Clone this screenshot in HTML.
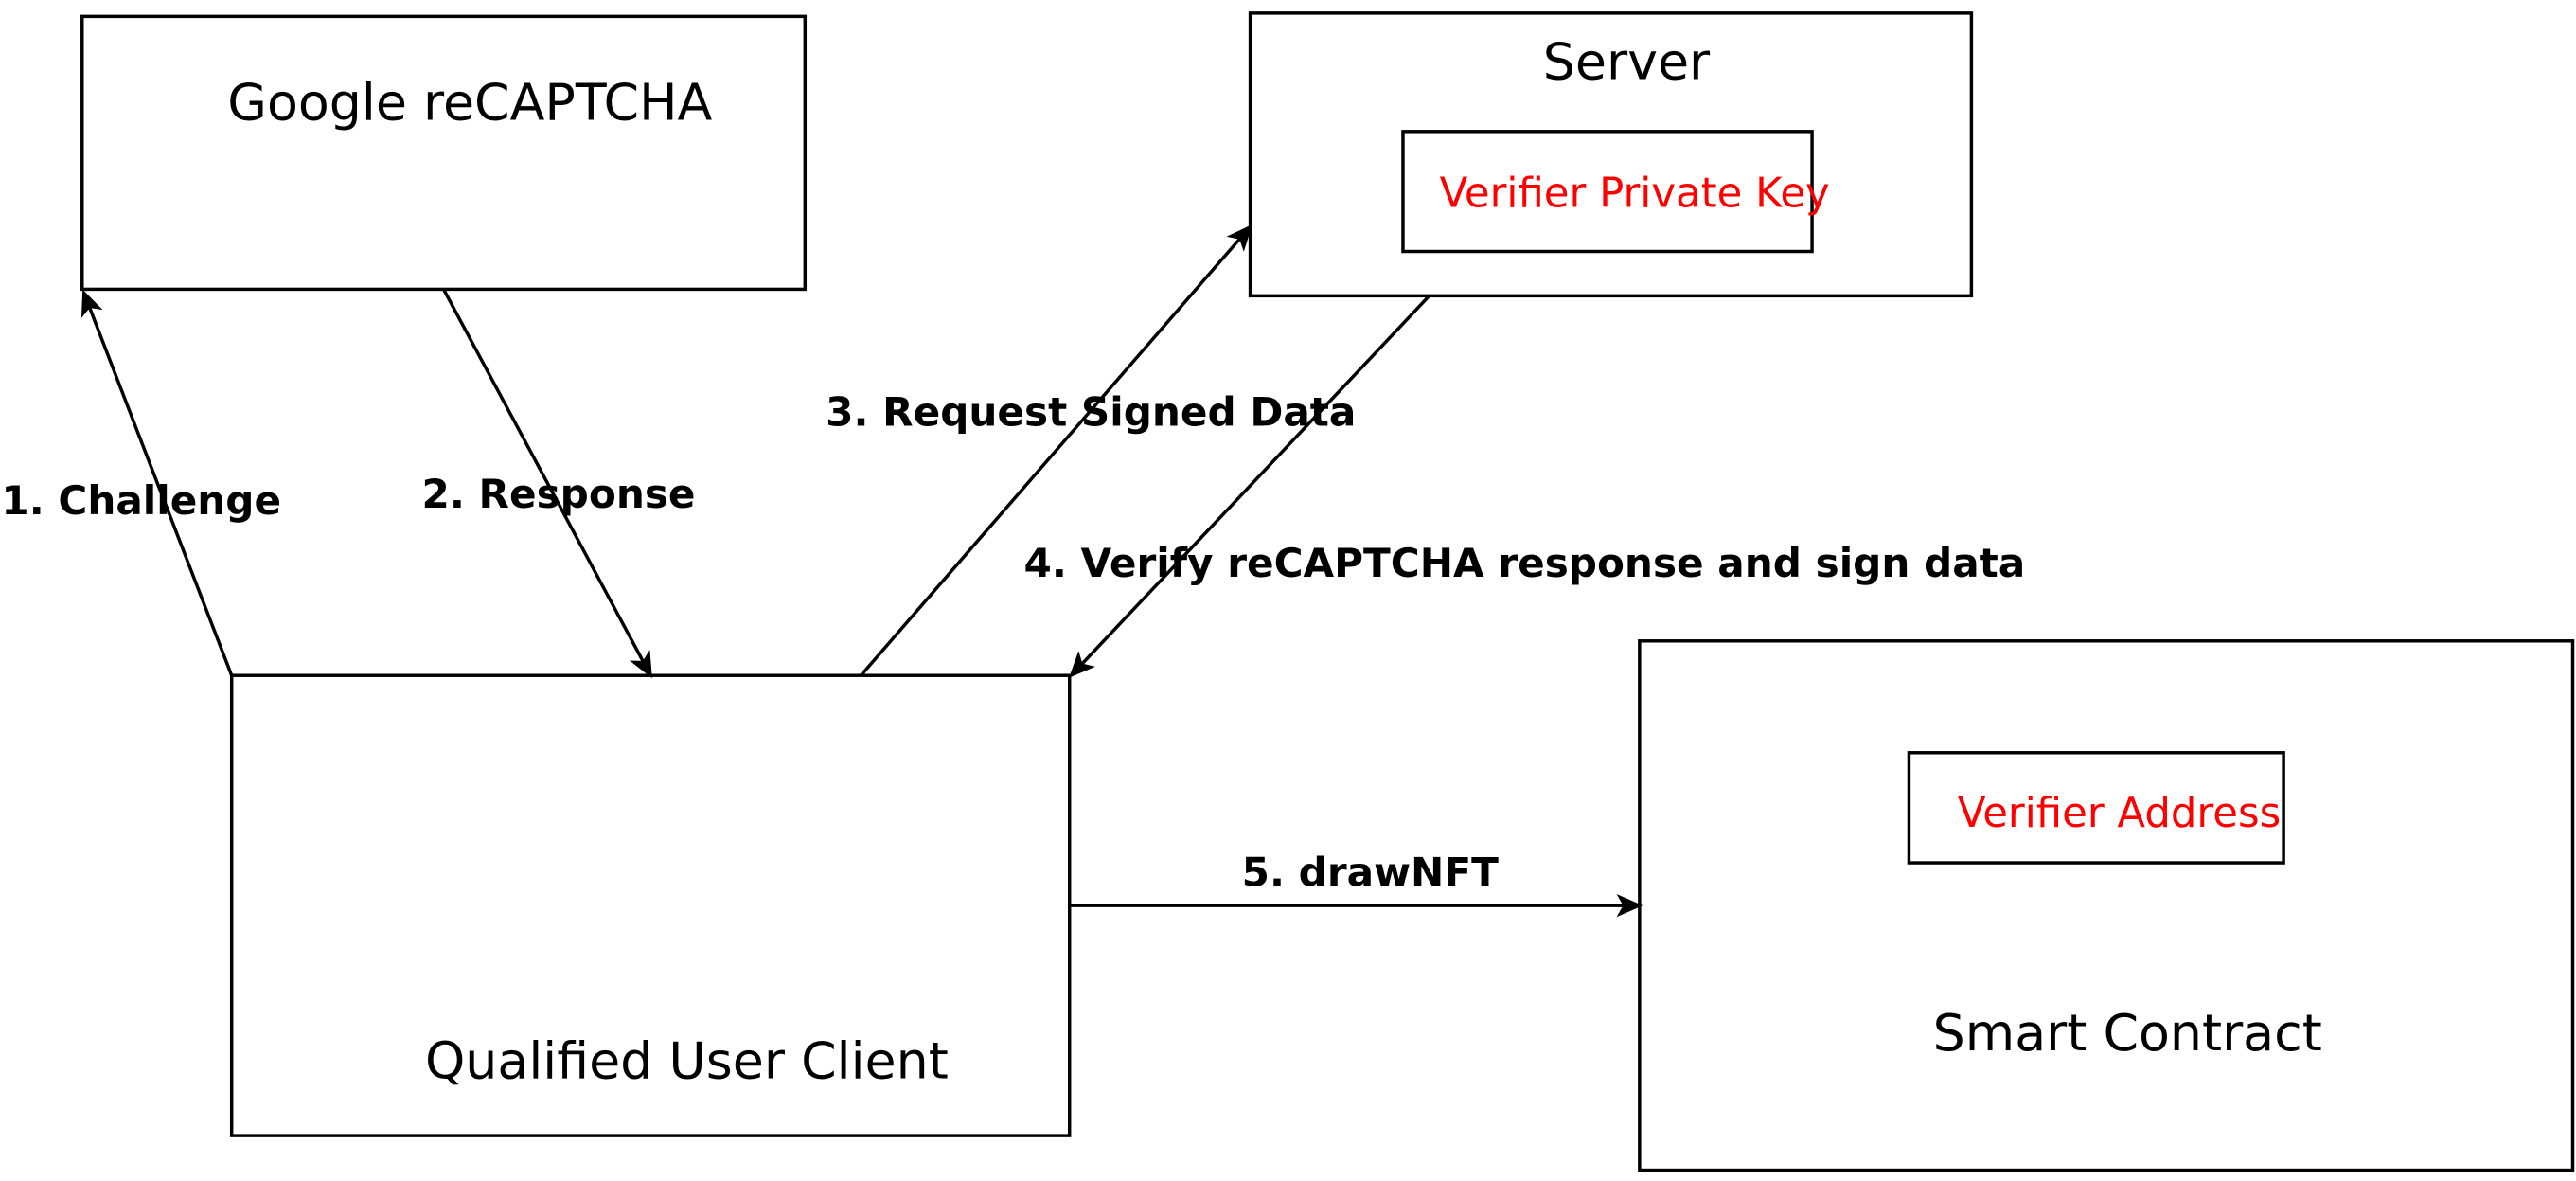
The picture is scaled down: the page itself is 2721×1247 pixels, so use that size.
<!DOCTYPE html>
<html><head><meta charset="utf-8"><style>html,body{margin:0;padding:0;background:#fff}svg{display:block}</style></head>
<body>
<svg width="2721" height="1247" viewBox="0 0 1568 718.6" xmlns="http://www.w3.org/2000/svg" font-family="DejaVu Sans, Liberation Sans, Noto Sans CJK SC, sans-serif">
<defs>
<marker id="a" markerWidth="16" markerHeight="14" refX="14" refY="7" orient="auto" markerUnits="userSpaceOnUse" viewBox="0 0 16 14">
<path d="M0,0 L16,7 L0,14 L4,7 z" fill="#000"/>
</marker>
</defs>
<rect width="1568" height="718.6" fill="#fff"/>
<g fill="none" stroke="#000" stroke-width="2">
<rect x="50" y="10" width="440" height="166"/>
<rect x="761" y="8" width="439" height="172"/>
<rect x="854" y="80" width="249" height="73"/>
<rect x="141" y="411" width="510" height="280"/>
<rect x="998" y="390" width="568" height="322"/>
<rect x="1162" y="458" width="228" height="67"/>
<line x1="141" y1="411" x2="51" y2="178" marker-end="url(#a)"/>
<line x1="270" y1="176" x2="396" y2="411" marker-end="url(#a)"/>
<line x1="524" y1="411" x2="761" y2="138" marker-end="url(#a)"/>
<line x1="870" y1="180" x2="652" y2="411" marker-end="url(#a)"/>
<line x1="651" y1="551" x2="998" y2="551" marker-end="url(#a)"/>
</g>
<g text-anchor="middle" fill="#000">
<text x="286" y="73" font-size="31">Google reCAPTCHA</text>
<text x="990" y="48" font-size="31">Server</text>
<text x="418" y="656" font-size="31">Qualified User Client</text>
<text x="1295" y="639" font-size="31">Smart Contract</text>
<text x="995" y="126" font-size="25" fill="#f00">Verifier Private Key</text>
<text x="1290" y="503" font-size="25" fill="#f00">Verifier Address</text>
<g font-weight="bold" font-size="24.3">
<text x="86" y="313">1. Challenge</text>
<text x="340" y="309">2. Response</text>
<text x="664" y="259">3. Request Signed Data</text>
<text x="928" y="351">4. Verify reCAPTCHA response and sign data</text>
<text x="834" y="539">5. drawNFT</text>
</g>
</g>
</svg>
</body></html>
